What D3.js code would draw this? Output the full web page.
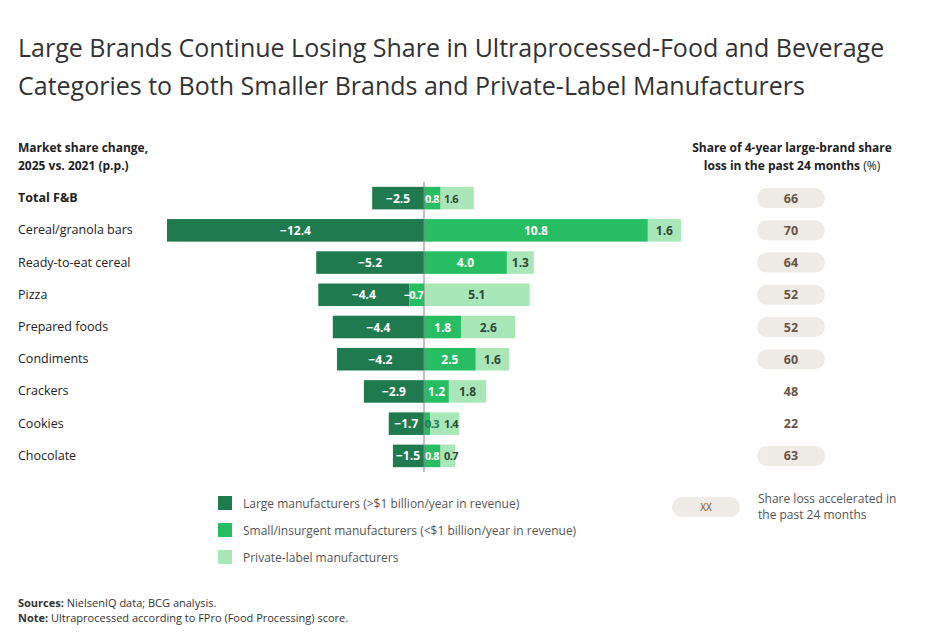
<!DOCTYPE html><html><head><meta charset="utf-8">
<script src="https://cdn.jsdelivr.net/npm/d3@7"></script>
<style>body{margin:0;background:#fff;font-family:"Open Sans",sans-serif}</style></head><body>
<svg id="c" width="933" height="639"></svg>
<script>
const categories=["Total F&B","Cereal/granola bars","Ready-to-eat cereal","Pizza","Prepared foods","Condiments","Crackers","Cookies","Chocolate"];
const large=[-2.5,-12.4,-5.2,-4.4,-4.4,-4.2,-2.9,-1.7,-1.5];
const small=[0.8,10.8,4.0,-0.7,1.8,2.5,1.2,0.3,0.8];
const priv=[1.6,1.6,1.3,5.1,2.6,1.6,1.8,1.4,0.7];
const shareLoss=[66,70,64,52,52,60,48,22,63];
const accelerated=[true,true,true,true,true,true,false,false,true];
const svg=d3.select("#c");
const C={large:"#1f7a4f",small:"#27bd62",priv:"#a9e7b9"};
const x=d3.scaleLinear().domain([-12.4,12.4]).range([167,681]);
const y=d3.scaleBand().domain(categories).range([182,472]).paddingInner(0.3).paddingOuter(0.15);
const bh=y.bandwidth();
svg.append("text").attr("x",18).attr("y",57).attr("font-size",25).attr("fill","#333").text("Large Brands Continue Losing Share in Ultraprocessed-Food and Beverage");
svg.append("text").attr("x",18).attr("y",95).attr("font-size",25).attr("fill","#333").text("Categories to Both Smaller Brands and Private-Label Manufacturers");
const hb=svg.append("g").attr("font-size",12).attr("font-weight",700).attr("fill","#222");
hb.append("text").attr("x",18).attr("y",152).text("Market share change,");
hb.append("text").attr("x",18).attr("y",170).text("2025 vs. 2021 (p.p.)");
hb.append("text").attr("x",792).attr("y",152).attr("text-anchor","middle").text("Share of 4-year large-brand share");
const t2=hb.append("text").attr("x",792).attr("y",170).attr("text-anchor","middle").text("loss in the past 24 months ");
t2.append("tspan").attr("font-weight",400).text("(%)");
categories.forEach((c,i)=>{
  const yy=y(c), cy=yy+bh/2;
  svg.append("text").attr("x",18).attr("y",cy+4).attr("font-size",12.5).attr("font-weight",i==0?700:400).attr("fill","#222").text(c);
  let segs=[];
  if(small[i]<0){
    segs.push({k:"l",a:small[i],b:small[i]+large[i],v:large[i],c:C.large,t:"#fff"});
    segs.push({k:"s",a:0,b:small[i],v:small[i],c:C.small,t:"#fff"});
    segs.push({k:"p",a:0,b:priv[i],v:priv[i],c:C.priv,t:"#2f4a38"});
  } else {
    segs.push({k:"l",a:0,b:large[i],v:large[i],c:C.large,t:"#fff"});
    segs.push({k:"s",a:0,b:small[i],v:small[i],c:C.small,t:"#fff"});
    segs.push({k:"p",a:small[i],b:small[i]+priv[i],v:priv[i],c:C.priv,t:"#2f4a38"});
  }
  const smallNarrow=small[i]>0&&(x(small[i])-x(0))<20;
  segs.forEach(s=>{
    const x0=x(Math.min(s.a,s.b)),x1=x(Math.max(s.a,s.b));
    svg.append("rect").attr("x",x0).attr("y",yy).attr("width",x1-x0).attr("height",bh).attr("fill",s.c);
  });
  segs.forEach(s=>{
    const x0=x(Math.min(s.a,s.b)),x1=x(Math.max(s.a,s.b));
    let tx=(x0+x1)/2, anchor="middle", fill=s.t;
    const narrow=(x1-x0)<20;
    if(s.k=="l"&&small[i]>=0) tx=Math.min(tx,x1-16);
    if(s.k=="s"&&smallNarrow){tx=x0+8; if(x1-x0<10) fill="#1f7a4f";}
    if(s.k=="p"&&(narrow||smallNarrow)){anchor="start";tx=Math.max(x0+1,x(0)+20);}
    if(s.k=="s"&&small[i]<0) tx=x0+4;
    const nf=narrow||(s.k=="p"&&smallNarrow);
    svg.append("text").attr("x",tx).attr("y",cy+4.5).attr("text-anchor",anchor).attr("font-size",nf?11:12).attr("letter-spacing",nf?-0.6:0).attr("font-weight",700).attr("fill",fill).text(d3.format(".1f")(s.v).replace("-","\u2212"));
  });
  if(accelerated[i]) svg.append("rect").attr("x",757).attr("y",cy-10).attr("width",68).attr("height",20).attr("rx",10).attr("fill","#efebe7");
  svg.append("text").attr("x",791).attr("y",cy+4.5).attr("text-anchor","middle").attr("font-size",12.5).attr("font-weight",700).attr("fill","#6b5444").text(shareLoss[i]);
});
svg.append("line").attr("x1",x(0)).attr("x2",x(0)).attr("y1",182).attr("y2",472).attr("stroke","#8a7f85").attr("stroke-width",1);
const leg=[["Large manufacturers (>$1 billion/year in revenue)",C.large],["Small/insurgent manufacturers (<$1 billion/year in revenue)",C.small],["Private-label manufacturers",C.priv]];
leg.forEach((l,i)=>{
  svg.append("rect").attr("x",218).attr("y",496+i*27).attr("width",14).attr("height",14).attr("fill",l[1]);
  svg.append("text").attr("x",243).attr("y",508+i*27).attr("font-size",12).attr("fill","#555").text(l[0]);
});
svg.append("rect").attr("x",672).attr("y",497).attr("width",68).attr("height",20).attr("rx",10).attr("fill","#efebe7");
svg.append("text").attr("x",706).attr("y",511).attr("text-anchor","middle").attr("font-size",10).attr("fill","#6b5444").text("XX");
svg.append("text").attr("x",758).attr("y",503).attr("font-size",12).attr("fill","#555").text("Share loss accelerated in");
svg.append("text").attr("x",758).attr("y",519).attr("font-size",12).attr("fill","#555").text("the past 24 months");
const f=svg.append("g").attr("font-size",11).attr("fill","#333");
const s1=f.append("text").attr("x",18).attr("y",607);
s1.append("tspan").attr("font-weight",700).text("Sources: ");s1.append("tspan").text("NielsenIQ data; BCG analysis.");
const s2=f.append("text").attr("x",18).attr("y",622);
s2.append("tspan").attr("font-weight",700).text("Note: ");s2.append("tspan").text("Ultraprocessed according to FPro (Food Processing) score.");
</script></body></html>
